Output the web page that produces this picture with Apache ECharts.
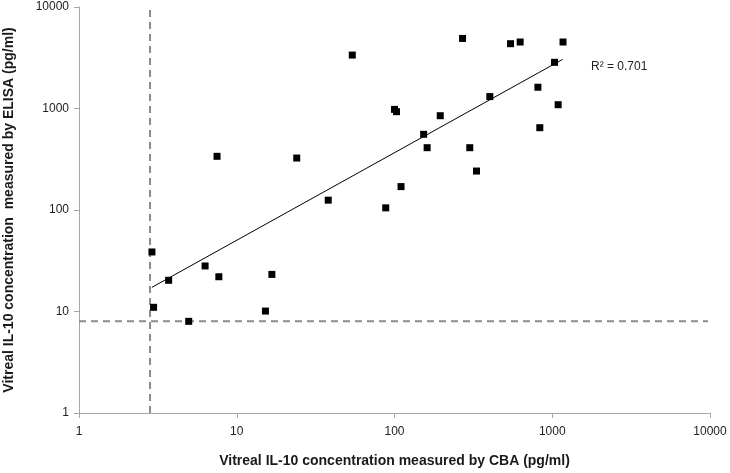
<!DOCTYPE html>
<html>
<head>
<meta charset="utf-8">
<script src="https://cdn.jsdelivr.net/npm/echarts@6/dist/echarts.min.js"></script>
<style>html,body{margin:0;padding:0;background:#fff}#c{width:730px;height:473px}</style>
</head>
<body>
<div id="c"></div>
<script>
// CBA (x) and ELISA (y) measurements, pg/ml
const cbaValues = [54, 7.5, 24, 38, 270, 544, 626, 1170, 1034, 811, 402, 1090, 834, 100, 103, 195, 153, 161, 300, 331, 110, 88, 2.9, 2.97, 3.7, 6.3, 7.7, 4.96, 15.2, 16.7];
const elisaValues = [3360, 338, 325, 125, 4900, 4350, 4520, 4520, 2850, 1620, 1310, 1090, 647, 980, 930, 849, 557, 411, 411, 242, 170, 105, 38.6, 11.0, 20.3, 28.1, 22.0, 8.0, 10.1, 23.2];
// Power trend line end points
const trendX = [2.9, 1165];
const trendY = [17.3, 3050];
// Detection-limit dashed lines
const cbaLimit = 2.82;
const elisaLimit = 8;
const axisTicks = [1, 10, 100, 1000, 10000];
const r2Text = 'R² = 0.701';

const points = cbaValues.map((x, i) => [x, elisaValues[i]]);
const chart = echarts.init(document.getElementById('c'), null, {renderer: 'canvas'});
const font = 'Liberation Sans, Arial, sans-serif';
const axisColor = '#a6a6a6';
const fmt = v => String(Math.round(v));
chart.setOption({
  animation: false,
  grid: {left: 79, right: 20, top: 7, bottom: 60, containLabel: false, outerBoundsMode: 'none'},
  xAxis: {
    type: 'log', logBase: 10, min: axisTicks[0], max: axisTicks[axisTicks.length - 1],
    name: 'Vitreal IL-10 concentration measured by CBA (pg/ml)',
    nameLocation: 'middle', nameGap: 41,
    nameTextStyle: {fontFamily: font, fontSize: 14, fontWeight: 'bold', color: '#1a1a1a'},
    axisLine: {lineStyle: {color: axisColor, width: 1}},
    axisTick: {show: true, length: 5, lineStyle: {color: axisColor}},
    axisLabel: {fontFamily: font, fontSize: 12, color: '#222', margin: 13, formatter: fmt},
    splitLine: {show: false}, minorTick: {show: false}
  },
  yAxis: {
    type: 'log', logBase: 10, min: axisTicks[0], max: axisTicks[axisTicks.length - 1],
    name: 'Vitreal IL-10 concentration  measured by ELISA (pg/ml)',
    nameLocation: 'middle', nameGap: 63,
    nameTextStyle: {fontFamily: font, fontSize: 14, fontWeight: 'bold', color: '#1a1a1a'},
    axisLine: {show: true, lineStyle: {color: axisColor, width: 1}},
    axisTick: {show: true, length: 5, lineStyle: {color: axisColor}},
    axisLabel: {fontFamily: font, fontSize: 12, color: '#222', margin: 10, formatter: fmt},
    splitLine: {show: false}, minorTick: {show: false}
  },
  series: [
    {
      type: 'line', data: [[cbaLimit, axisTicks[0]], [cbaLimit, axisTicks[4]]],
      symbol: 'none', silent: true,
      lineStyle: {color: '#8c8c8c', width: 2, type: [7, 5]}, z: 1
    },
    {
      type: 'line', data: [[axisTicks[0], elisaLimit], [9700, elisaLimit]],
      symbol: 'none', silent: true,
      lineStyle: {color: '#8c8c8c', width: 2, type: [7, 5]}, z: 1
    },
    {
      type: 'line', data: trendX.map((x, i) => [x, trendY[i]]),
      symbol: 'none', silent: true,
      lineStyle: {color: '#000', width: 1}, z: 2
    },
    {
      type: 'scatter', data: points, symbol: 'rect', symbolSize: 7,
      itemStyle: {color: '#000', opacity: 1}, z: 3
    }
  ],
  graphic: [{
    type: 'text', left: 591, top: 61,
    style: {text: r2Text, fontFamily: font, fontSize: 12, fill: '#222'}
  }]
});
</script>
</body>
</html>
